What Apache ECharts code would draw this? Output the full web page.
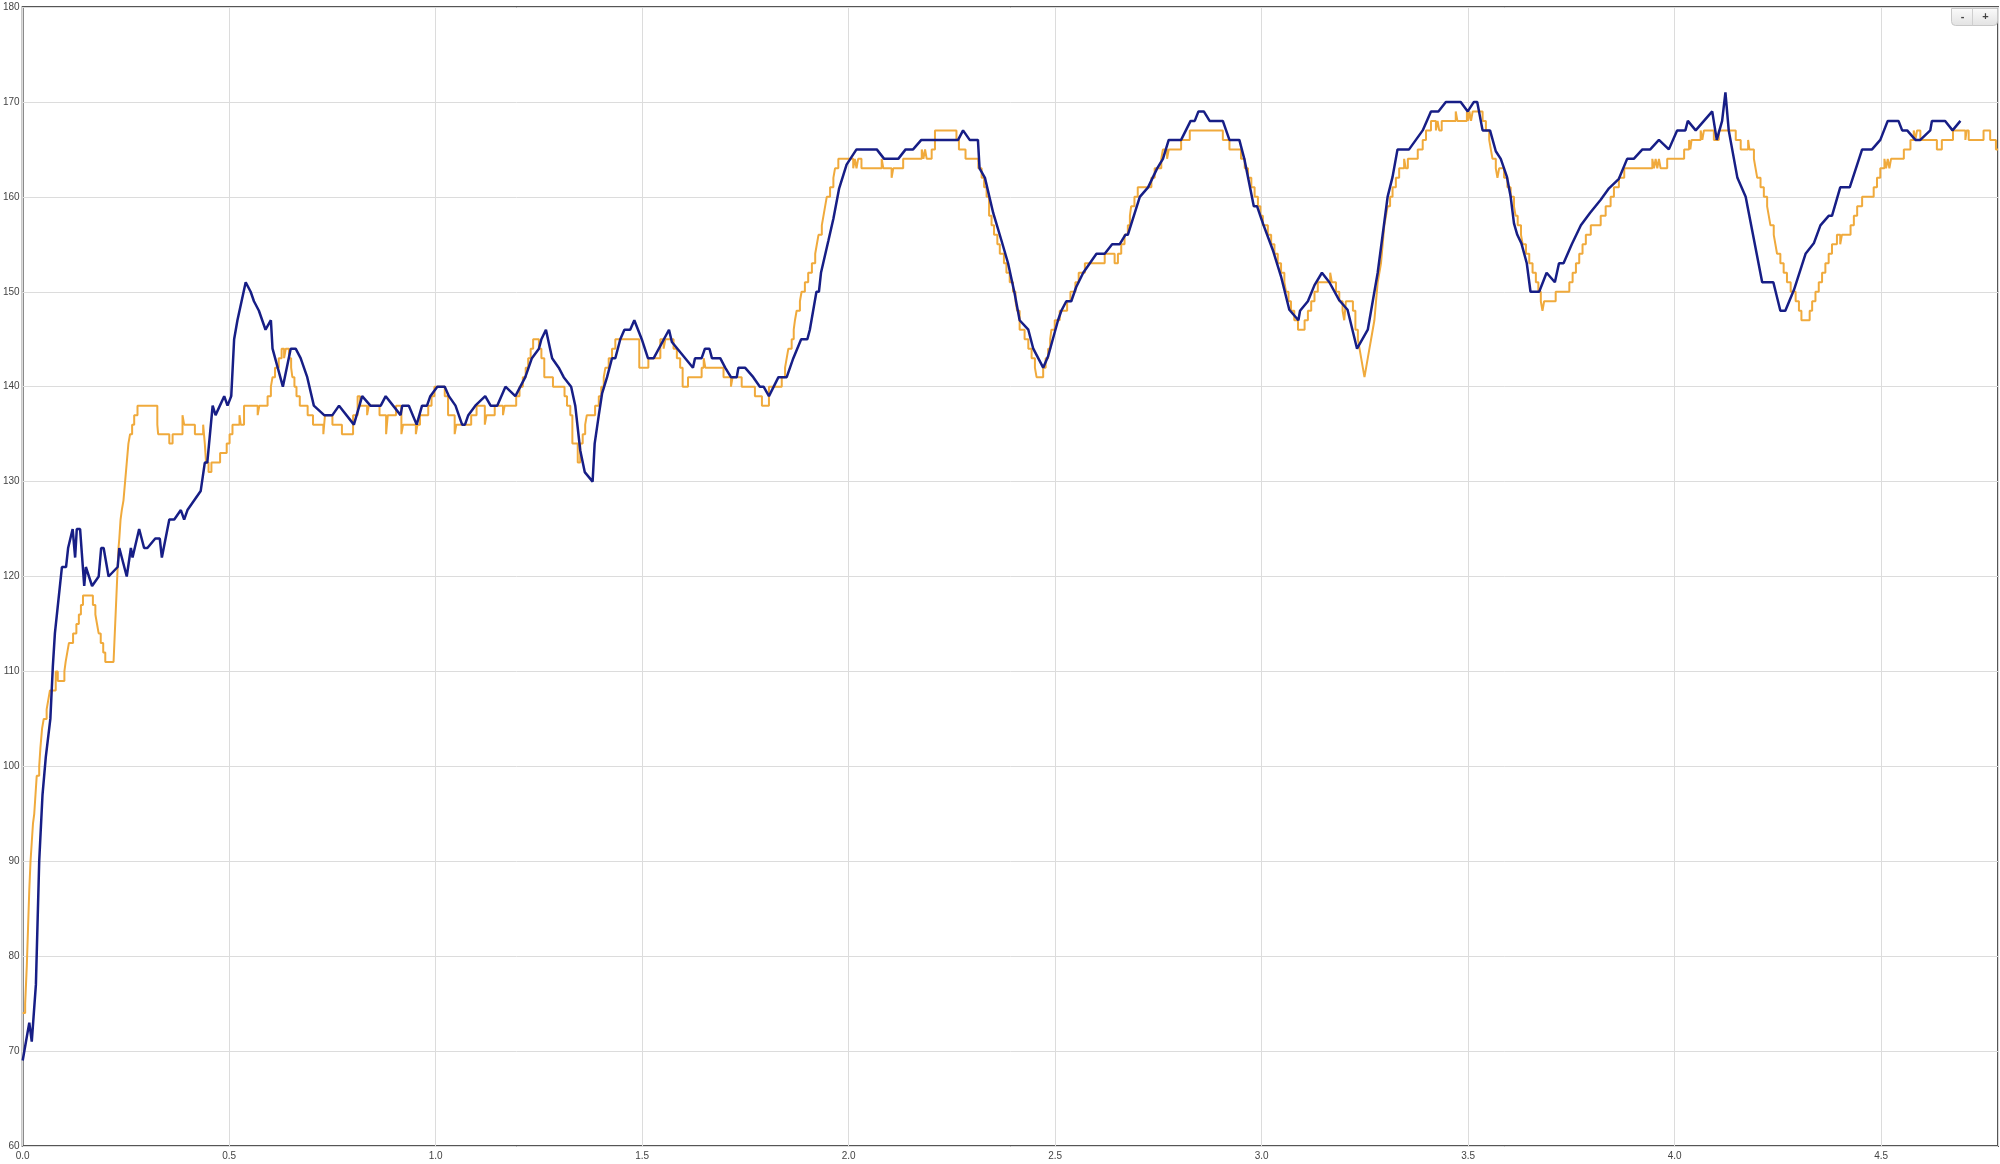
<!DOCTYPE html>
<html>
<head>
<meta charset="utf-8">
<script src="https://cdn.jsdelivr.net/npm/echarts@6/dist/echarts.min.js"></script>
<style>
html,body{margin:0;padding:0;background:#fff;}
#chart{width:2000px;height:1164px;}
</style>
</head>
<body>
<div id="chart"></div>
<script>
// Axis ranges
const xRange = [0, 4.783];
const yRange = [60, 180];

// Orange series: [time, value] – value held until next time (step)
const orangeData = [
[0.000,74],[0.006,75],[0.010,79],[0.013,83],[0.016,87],[0.019,90],[0.022,92],[0.025,94],[0.028,95],[0.031,97],[0.034,99],[0.040,100],[0.043,102],[0.047,104],[0.051,105],[0.058,106],[0.062,107],[0.066,108],[0.080,110],[0.085,109],[0.101,110],[0.104,111],[0.108,112],[0.112,113],[0.122,114],[0.130,115],[0.136,116],[0.141,117],[0.146,118],[0.170,117],[0.176,116],[0.180,115],[0.184,114],[0.189,113],[0.195,112],[0.200,111],
[0.220,111],[0.222,113],[0.224,115],[0.226,117],[0.228,119],[0.230,121],[0.232,123],[0.234,124],[0.237,126],[0.240,127],[0.244,128],[0.248,130],[0.252,132],[0.256,134],[0.260,135],[0.265,136],[0.270,137],[0.278,138],[0.326,136],[0.328,135],[0.355,134],[0.363,135],[0.387,137],[0.391,136],[0.417,135],[0.437,136],[0.441,134],[0.444,132],[0.450,131],[0.457,132],[0.478,133],[0.494,134],[0.501,135],[0.508,136],[0.525,137],[0.528,136],[0.536,138],[0.569,137],[0.573,138],[0.593,139],[0.601,140],[0.605,141],[0.611,142],[0.620,143],[0.627,144],[0.633,143],[0.637,144],[0.645,143],[0.650,142],[0.653,141],[0.658,140],[0.663,139],[0.671,138],[0.690,137],[0.703,136],[0.728,135],[0.732,137],[0.750,136],[0.773,135],[0.800,137],[0.811,139],[0.817,138],[0.834,137],[0.838,138],[0.864,137],[0.880,135],[0.884,137],[0.904,138],[0.917,135],[0.921,136],[0.952,135],[0.956,136],[0.962,137],[0.982,138],[0.990,139],[0.997,140],[1.022,139],[1.030,137],[1.046,135],[1.050,136],[1.086,137],[1.099,138],[1.119,136],[1.123,137],[1.143,138],[1.163,137],[1.167,138],[1.195,139],[1.203,140],[1.211,141],[1.218,142],[1.224,143],[1.230,144],[1.236,145],[1.250,144],[1.256,143],[1.263,141],[1.284,140],[1.312,139],[1.318,138],[1.326,137],[1.331,134],[1.344,132],[1.350,134],[1.356,135],[1.362,136],[1.366,137],[1.386,138],[1.395,139],[1.401,140],[1.407,141],[1.411,142],[1.419,143],[1.427,144],[1.435,145],[1.493,142],[1.515,143],[1.544,145],[1.552,144],[1.556,145],[1.576,144],[1.584,143],[1.592,142],[1.598,140],[1.611,141],[1.644,142],[1.649,143],[1.653,142],[1.697,141],[1.715,140],[1.719,141],[1.741,140],[1.773,139],[1.790,138],[1.807,140],[1.838,141],[1.846,142],[1.850,143],[1.854,144],[1.862,145],[1.867,146],[1.870,147],[1.874,148],[1.882,149],[1.886,150],[1.894,151],[1.902,152],[1.911,153],[1.919,154],[1.923,155],[1.927,156],[1.935,157],[1.939,158],[1.943,159],[1.947,160],[1.955,161],[1.963,162],[1.967,163],[1.975,164],[2.011,163],[2.015,164],[2.019,163],[2.023,164],[2.031,163],[2.080,164],[2.084,163],[2.104,162],[2.108,163],[2.132,164],[2.177,165],[2.181,164],[2.185,165],[2.189,164],[2.201,165],[2.209,167],[2.261,166],[2.267,165],[2.283,164],[2.314,163],[2.322,162],[2.328,161],[2.334,160],[2.340,158],[2.346,157],[2.352,156],[2.360,155],[2.366,154],[2.376,153],[2.382,152],[2.390,151],[2.398,150],[2.404,149],[2.408,148],[2.414,146],[2.426,145],[2.435,144],[2.443,143],[2.451,142],[2.455,141],[2.471,142],[2.477,143],[2.483,144],[2.488,145],[2.491,146],[2.499,147],[2.511,148],[2.529,149],[2.537,150],[2.549,151],[2.557,152],[2.572,153],[2.620,154],[2.644,153],[2.652,154],[2.660,155],[2.668,156],[2.676,157],[2.681,158],[2.684,159],[2.692,160],[2.700,161],[2.733,162],[2.741,163],[2.757,164],[2.761,165],[2.771,164],[2.775,165],[2.805,166],[2.826,167],[2.906,166],[2.922,165],[2.950,164],[2.959,163],[2.967,162],[2.975,161],[2.983,160],[2.991,159],[2.997,158],[3.003,157],[3.015,156],[3.023,155],[3.031,154],[3.039,153],[3.047,152],[3.055,151],[3.059,150],[3.065,149],[3.071,148],[3.079,147],[3.088,146],[3.104,147],[3.112,148],[3.120,149],[3.128,150],[3.136,151],[3.166,152],[3.170,151],[3.180,150],[3.188,149],[3.196,148],[3.200,147],[3.204,149],[3.221,148],[3.227,146],[3.233,145],[3.237,144],[3.241,143],[3.245,142],[3.249,141],[3.253,142],[3.257,143],[3.261,144],[3.265,145],[3.269,146],[3.273,147],[3.277,149],[3.281,151],[3.285,152],[3.289,153],[3.293,155],[3.297,157],[3.301,158],[3.305,159],[3.311,160],[3.317,161],[3.325,162],[3.333,163],[3.345,164],[3.349,163],[3.354,164],[3.378,165],[3.390,166],[3.398,167],[3.410,168],[3.422,167],[3.426,168],[3.430,167],[3.436,168],[3.470,169],[3.474,168],[3.497,169],[3.500,168],[3.503,169],[3.507,168],[3.511,169],[3.535,168],[3.543,167],[3.551,166],[3.555,165],[3.559,164],[3.567,163],[3.571,162],[3.575,163],[3.587,162],[3.595,161],[3.603,160],[3.611,159],[3.615,158],[3.620,157],[3.628,156],[3.632,155],[3.640,154],[3.648,153],[3.656,152],[3.664,151],[3.670,150],[3.676,149],[3.680,148],[3.684,149],[3.712,150],[3.745,151],[3.753,152],[3.761,153],[3.769,154],[3.777,155],[3.785,156],[3.797,157],[3.821,158],[3.833,159],[3.845,160],[3.853,161],[3.865,162],[3.878,163],[3.946,164],[3.950,163],[3.954,164],[3.958,163],[3.962,164],[3.966,163],[3.982,164],[4.023,165],[4.035,166],[4.038,165],[4.041,166],[4.063,167],[4.067,166],[4.071,167],[4.095,166],[4.107,167],[4.148,166],[4.160,165],[4.178,166],[4.181,165],[4.192,164],[4.196,163],[4.200,162],[4.208,161],[4.216,160],[4.224,159],[4.228,158],[4.232,157],[4.240,156],[4.244,155],[4.248,154],[4.256,153],[4.264,152],[4.272,151],[4.281,150],[4.293,149],[4.301,148],[4.307,147],[4.327,148],[4.333,149],[4.341,150],[4.349,151],[4.357,152],[4.365,153],[4.373,154],[4.381,155],[4.393,156],[4.401,155],[4.405,156],[4.426,157],[4.434,158],[4.442,159],[4.454,160],[4.482,161],[4.490,162],[4.498,163],[4.508,164],[4.512,163],[4.516,164],[4.520,163],[4.524,164],[4.555,165],[4.571,166],[4.579,167],[4.583,166],[4.587,167],[4.595,166],[4.635,165],[4.647,166],[4.674,167],[4.704,166],[4.707,167],[4.712,166],[4.748,167],[4.764,166],[4.778,165],[4.783,165]
];

// Blue series: [time, value]
const blueData = [
[0.000,69],[0.016,73],[0.022,71],[0.032,77],[0.040,90],[0.048,97],[0.056,101],[0.067,105],[0.073,110.5],[0.078,114],[0.095,121],[0.105,121],[0.110,123],[0.121,125],[0.127,122],[0.131,125],[0.139,125],[0.149,119],[0.153,121],[0.168,119],[0.184,120],[0.190,123],[0.196,123],[0.208,120],[0.230,121],[0.234,123],[0.252,120],[0.262,123],[0.266,122],[0.282,125],[0.294,123],[0.302,123],[0.321,124],[0.332,124],[0.337,122],[0.355,126],[0.367,126],[0.383,127],[0.391,126],[0.399,127],[0.415,128],[0.431,129],[0.441,132],[0.447,132],[0.460,138],[0.467,137],[0.488,139],[0.496,138],[0.505,139],[0.512,145],[0.520,147],[0.540,151],[0.552,150],[0.560,149],[0.572,148],[0.588,146],[0.601,147],[0.605,144],[0.630,140],[0.649,144],[0.661,144],[0.673,143],[0.689,141],[0.705,138],[0.730,137],[0.750,137],[0.766,138],[0.802,136],[0.822,139],[0.842,138],[0.867,138],[0.879,139],[0.915,137],[0.919,138],[0.935,138],[0.954,136],[0.967,138],[0.979,138],[0.987,139],[1.004,140],[1.022,140],[1.032,139],[1.048,138],[1.064,136],[1.071,136],[1.079,137],[1.096,138],[1.120,139],[1.133,138],[1.149,138],[1.169,140],[1.193,139],[1.217,141],[1.233,143],[1.250,144],[1.256,145],[1.267,146],[1.282,143],[1.298,142],[1.310,141],[1.328,140],[1.338,138],[1.350,133.3],[1.361,131],[1.380,130],[1.385,134],[1.395,137],[1.403,139.3],[1.415,141],[1.427,143],[1.435,143],[1.447,145],[1.457,146],[1.471,146],[1.481,147],[1.485,147],[1.499,145],[1.514,143],[1.528,143],[1.565,146],[1.572,144.7],[1.623,142],[1.628,143],[1.644,143],[1.652,144],[1.663,144],[1.669,143],[1.689,143],[1.701,142],[1.715,141],[1.729,141],[1.733,142],[1.749,142],[1.769,141],[1.785,140],[1.794,140],[1.807,139],[1.830,141],[1.850,141],[1.866,143],[1.885,145],[1.900,145],[1.906,146],[1.922,150],[1.928,150],[1.933,152],[1.951,155.4],[1.963,157.7],[1.977,160.9],[1.995,163.4],[2.019,165],[2.068,165],[2.086,164],[2.120,164],[2.138,165],[2.156,165],[2.176,166],[2.265,166],[2.277,167],[2.293,166],[2.313,166],[2.317,163],[2.330,162],[2.350,158.3],[2.370,155.4],[2.386,153],[2.402,149.8],[2.414,147],[2.435,146],[2.447,144],[2.471,142],[2.483,143.2],[2.507,147],[2.515,148],[2.527,149],[2.539,149],[2.551,150.5],[2.568,152],[2.584,153],[2.600,154],[2.620,154],[2.638,155],[2.656,155],[2.670,156],[2.676,156],[2.705,160],[2.725,161],[2.747,163],[2.761,164],[2.775,166],[2.805,166],[2.828,168],[2.838,168],[2.847,169],[2.860,169],[2.874,168],[2.906,168],[2.922,166],[2.946,166],[2.958,164],[2.981,159],[2.989,159],[3.003,157.2],[3.027,154.4],[3.047,151.6],[3.067,148.1],[3.089,147],[3.093,148],[3.112,149],[3.128,150.7],[3.146,152],[3.164,151],[3.188,149.1],[3.208,148.1],[3.231,144],[3.257,146],[3.281,152],[3.305,160],[3.317,162.1],[3.329,165],[3.357,165],[3.390,167],[3.410,169],[3.428,169],[3.446,170],[3.482,170],[3.499,169],[3.514,170],[3.522,170],[3.535,167],[3.553,167],[3.567,164.8],[3.579,164],[3.594,162.1],[3.603,160],[3.611,157.2],[3.619,156],[3.629,155.1],[3.642,153],[3.651,150],[3.672,150],[3.690,152],[3.710,151],[3.720,153],[3.731,153],[3.751,155],[3.773,157],[3.795,158.3],[3.821,159.7],[3.841,160.9],[3.865,161.9],[3.885,164],[3.901,164],[3.922,165],[3.941,165],[3.962,166],[3.986,165],[4.006,167],[4.026,167],[4.032,168],[4.051,167],[4.091,169],[4.102,166],[4.115,168],[4.123,171],[4.131,167],[4.152,162],[4.172,160],[4.212,151],[4.239,151],[4.256,148],[4.268,148],[4.289,150.2],[4.317,154],[4.337,155.1],[4.353,157],[4.373,158],[4.381,158],[4.401,161],[4.424,161],[4.454,165],[4.478,165],[4.498,166],[4.516,168],[4.542,168],[4.551,167],[4.563,167],[4.583,166],[4.595,166],[4.619,167],[4.623,168],[4.655,168],[4.673,167],[4.692,168]
];

const chart = echarts.init(document.getElementById('chart'), null, {renderer: 'canvas'});
const labelFont = {fontFamily: 'Liberation Sans, Arial, sans-serif', fontSize: 10, color: '#444'};

chart.setOption({
  animation: false,
  backgroundColor: '#ffffff',
  grid: {left: 20, right: 2, top: 7, bottom: 18, show: true, borderColor: '#555', borderWidth: 2, backgroundColor: 'transparent'},
  xAxis: {
    type: 'value', min: xRange[0], max: xRange[1], interval: 0.5,
    axisLine: {show: false}, axisTick: {show: false},
    splitLine: {show: true, lineStyle: {color: '#dcdcdc', width: 1}},
    axisLabel: Object.assign({margin: 5, showMaxLabel: false, formatter: v => v.toFixed(1)}, labelFont)
  },
  yAxis: {
    type: 'value', min: yRange[0], max: yRange[1], interval: 10,
    axisLine: {show: false}, axisTick: {show: false},
    splitLine: {show: true, lineStyle: {color: '#dcdcdc', width: 1}},
    axisLabel: Object.assign({margin: 3}, labelFont)
  },
  series: [
    {type: 'line', data: orangeData, step: 'end', showSymbol: false, symbol: 'none',
     lineStyle: {color: '#F0AA3C', width: 2}, itemStyle: {color: '#F0AA3C'}, z: 2},
    {type: 'line', data: blueData, showSymbol: false, symbol: 'none',
     lineStyle: {color: '#171E86', width: 2.5}, itemStyle: {color: '#171E86'}, z: 3}
  ],
  graphic: [
    {type: 'group', right: 2, top: 6, children: [
      {type: 'rect', shape: {x: 0, y: 0, width: 46, height: 17, r: [0, 0, 4, 4]},
       style: {fill: new echarts.graphic.LinearGradient(0, 0, 0, 1, [{offset: 0, color: '#fbfbfb'}, {offset: 1, color: '#e2e2e2'}]), stroke: '#c8c8c8', lineWidth: 1}},
      {type: 'line', shape: {x1: 21, y1: 0, x2: 21, y2: 17}, style: {stroke: '#cfcfcf', lineWidth: 1}},
      {type: 'text', x: 11, y: 8.5, style: {text: '-', fontSize: 11, fontWeight: 'bold', fontFamily: 'Liberation Sans, Arial', fill: '#444', align: 'center', verticalAlign: 'middle'}},
      {type: 'text', x: 34, y: 8.5, style: {text: '+', fontSize: 11, fontWeight: 'bold', fontFamily: 'Liberation Sans, Arial', fill: '#444', align: 'center', verticalAlign: 'middle'}}
    ]}
  ]
});
</script>
</body>
</html>
